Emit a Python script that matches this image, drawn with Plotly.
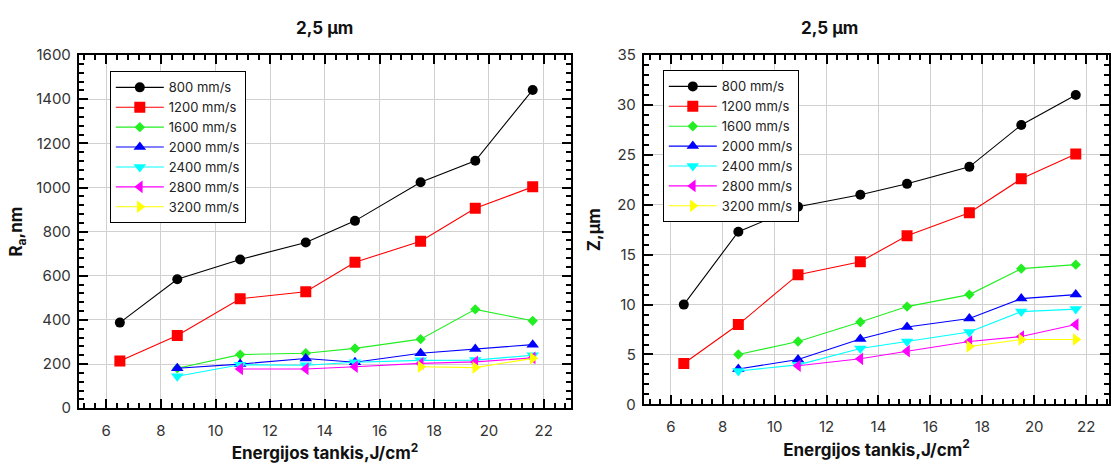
import plotly.graph_objects as go

W, H = 1111, 470

energy = [6.5, 8.6, 10.9, 13.3, 15.1, 17.5, 19.5, 21.6]
speeds = ["800 mm/s", "1200 mm/s", "1600 mm/s", "2000 mm/s", "2400 mm/s", "2800 mm/s", "3200 mm/s"]

# Ra, nm (left chart)
ra_800 = [388, 584, 674, 751, 849, 1024, 1121, 1442]
ra_1200 = [214, 330, 496, 528, 661, 757, 906, 1003]
ra_1600 = [None, 181, 243, 249, 271, 313, 448, 396]
ra_2000 = [None, 181, 200, 225, 208, 249, 268, 288]
ra_2400 = [None, 145, 197, 195, 208, 217, 218, 240]
ra_2800 = [None, None, 178, 178, 188, 203, 210, 228]
ra_3200 = [None, None, None, None, None, 188, 184, 226]

# Z, um (right chart)
z_800 = [10.0, 17.3, 19.8, 21.0, 22.1, 23.8, 28.0, 31.0]
z_1200 = [4.1, 8.0, 13.0, 14.3, 16.9, 19.2, 22.6, 25.1]
z_1600 = [None, 5.0, 6.3, 8.25, 9.8, 11.0, 13.6, 14.0]
z_2000 = [None, 3.55, 4.5, 6.55, 7.76, 8.6, 10.6, 11.0]
z_2400 = [None, 3.35, 3.96, 5.6, 6.3, 7.25, 9.3, 9.55]
z_2800 = [None, None, 3.87, 4.57, 5.33, 6.3, 6.8, 8.0]
z_3200 = [None, None, None, None, None, 5.8, 6.5, 6.5]

ra_series = [ra_800, ra_1200, ra_1600, ra_2000, ra_2400, ra_2800, ra_3200]
z_series = [z_800, z_1200, z_1600, z_2000, z_2400, z_2800, z_3200]

colors = ["#000000", "#FF0000", "#22EE22", "#0000FF", "#00FFFF", "#FF00FF", "#FFFF00"]
symbols = ["circle", "square", "diamond", "triangle-up", "triangle-down", "triangle-left", "triangle-right"]
msizes = [10, 11, 8, 11, 11, 11, 11]

fig = go.Figure()

def add_series(series, xa, ya, legend):
    for name, vals, c, s, ms in zip(speeds, series, colors, symbols, msizes):
        xs = [e for e, v in zip(energy, vals) if v is not None]
        ys = [v for v in vals if v is not None]
        fig.add_trace(go.Scatter(
            x=xs, y=ys, name=name, mode="lines+markers",
            line=dict(color=c, width=1.1),
            marker=dict(color=c, symbol=s, size=ms, line=dict(width=0)),
            xaxis=xa, yaxis=ya, legend=legend,
        ))

add_series(ra_series, "x", "y", "legend")
add_series(z_series, "x2", "y2", "legend2")

# empty helper traces so that the mirrored tick axes (top / right) are drawn
for xa, ya in [("x3", "y"), ("x", "y3"), ("x4", "y2"), ("x2", "y4")]:
    fig.add_trace(go.Scatter(x=[None], y=[None], xaxis=xa, yaxis=ya, showlegend=False,
                             hoverinfo="skip", mode="markers"))

font_family = "Inter, Liberation Sans, Arial, sans-serif"
tick_font = dict(family=font_family, size=15, color="#333")
title_font = dict(family=font_family, size=17, color="#111")

def minor(dt):
    return dict(dtick=dt, tick0=0, ticks="inside", ticklen=5, tickwidth=2,
                tickcolor="black", showgrid=False)

def main_axis(**kw):
    d = dict(showline=True, linecolor="black", linewidth=2, mirror=True,
             ticks="inside", ticklen=9, tickwidth=2, tickcolor="black",
             showgrid=True, gridcolor="#d0d0d0", gridwidth=1, zeroline=False,
             tickfont=tick_font)
    d.update(kw)
    return d

def mirror_axis(**kw):
    d = dict(showline=False, ticks="inside", ticklen=9, tickwidth=2, tickcolor="black",
             showgrid=False, zeroline=False, showticklabels=False)
    d.update(kw)
    return d

L0, L1 = 79 / W, 572 / W
R0, R1 = 645 / W, 1.0
yL = [(H - 415) / H, (H - 47) / H]
yR = [(H - 411) / H, (H - 47) / H]

xr_L = [5, 23]
xr_R = [4.96, 22.88]

legend_common = dict(xanchor="left", yanchor="top", bgcolor="white",
                     bordercolor="black", borderwidth=1,
                     font=dict(family=font_family, size=13, color="#222"),
                     tracegroupgap=0, itemwidth=48)

fig.update_layout(
    width=W, height=H,
    margin=dict(l=0, r=0, t=0, b=0),
    paper_bgcolor="white", plot_bgcolor="white",
    font=dict(family=font_family),
    xaxis=main_axis(domain=[L0, L1], range=xr_L, dtick=2, tick0=0, anchor="y",
                    minor=minor(0.4), ticklabelstandoff=8,
                    title=dict(text="<b>Energijos tankis,J/cm<sup>2</sup></b>", font=title_font, standoff=6)),
    yaxis=main_axis(domain=yL, range=[0, 1600], dtick=200, anchor="x",
                    minor=minor(40), ticklabelstandoff=3,
                    title=dict(text="<b>R<sub>a</sub>,nm</b>", font=title_font, standoff=9)),
    xaxis3=mirror_axis(range=xr_L, dtick=2, tick0=0, overlaying="x", anchor="y", side="top",
                       minor=minor(0.4)),
    yaxis3=mirror_axis(range=[0, 1600], dtick=200, overlaying="y", anchor="x", side="right",
                       minor=minor(40)),
    xaxis2=main_axis(domain=[R0, R1], range=xr_R, dtick=2, tick0=0, anchor="y2",
                     minor=minor(0.4), ticklabelstandoff=8,
                     title=dict(text="<b>Energijos tankis,J/cm<sup>2</sup></b>", font=title_font, standoff=6)),
    yaxis2=main_axis(domain=yR, range=[0, 35], dtick=5, anchor="x2",
                     minor=minor(1), ticklabelstandoff=3,
                     title=dict(text="<b>Z,µm</b>", font=title_font, standoff=12)),
    xaxis4=mirror_axis(range=xr_R, dtick=2, tick0=0, overlaying="x2", anchor="y2", side="top",
                       minor=minor(0.4)),
    yaxis4=mirror_axis(range=[0, 35], dtick=5, overlaying="y2", anchor="x2", side="right",
                       minor=minor(1)),
    legend=dict(x=110 / W, y=(H - 64) / H, **legend_common),
    legend2=dict(x=664 / W, y=(H - 63) / H, **legend_common),
    annotations=[
        dict(text="<b>2,5 µm</b>", x=0.5, y=(H - 19) / H, xref="x domain", yref="paper",
             showarrow=False, font=dict(family=font_family, size=17, color="#111"), yanchor="middle"),
        dict(text="<b>2,5 µm</b>", x=862 / W, y=(H - 19) / H, xref="paper", yref="paper",
             showarrow=False, font=dict(family=font_family, size=17, color="#111"), yanchor="middle"),
    ],
)

fig.write_html("out.html")
